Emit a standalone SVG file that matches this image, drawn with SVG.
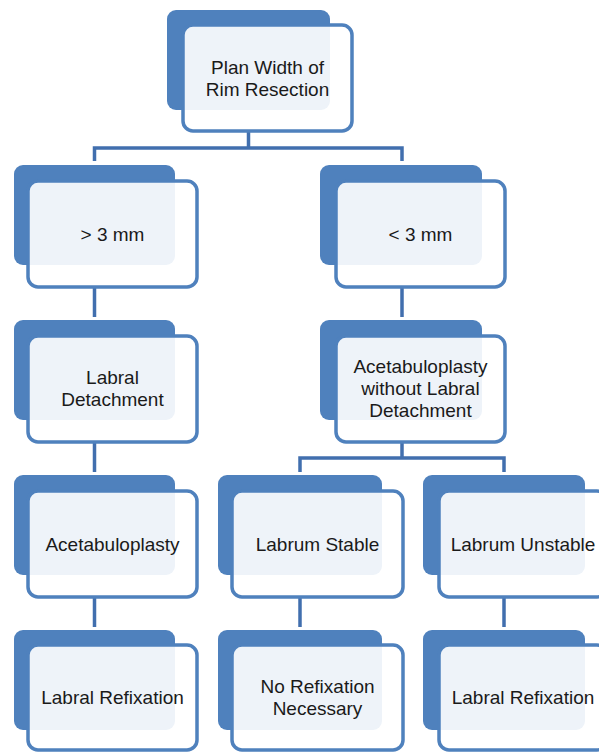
<svg xmlns="http://www.w3.org/2000/svg" width="599" height="752" viewBox="0 0 599 752">
<style>
.back{fill:#4f81bd;}
.front{fill:#ffffff;fill-opacity:0.9;stroke:#4f81bd;stroke-width:3.5;}
.conn{fill:none;stroke:#416fae;stroke-width:3.5;stroke-linejoin:miter;}
text{font-family:"Liberation Sans",Arial,sans-serif;font-size:19px;fill:#1a1a1a;text-anchor:middle;}
</style>
<rect width="599" height="752" fill="#ffffff"/>
<g id="connectors">
<path class="conn" d="M248.5,131 V148 M94.5,161 V148 H402 V161"/>
<path class="conn" d="M94.5,287 V317 M94.5,442 V472 M94.5,597 V627"/>
<path class="conn" d="M402,287 V317 M402,442 V458 M300,472 V458 H504 V472"/>
<path class="conn" d="M300,597 V627 M504,597 V627"/>
</g>
<g id="n-plan">
<rect class="back" x="167" y="10" width="163" height="100" rx="9"/>
<rect class="front" x="183" y="25" width="169" height="106" rx="10"/>
<text x="267.5" y="74">Plan Width of</text>
<text x="267.5" y="96">Rim Resection</text>
</g>
<g id="n-gt3">
<rect class="back" x="14" y="165" width="161" height="100" rx="9"/>
<rect class="front" x="28" y="181" width="169" height="106" rx="10"/>
<text x="112.5" y="240.5">&gt; 3 mm</text>
</g>
<g id="n-lt3">
<rect class="back" x="320" y="165" width="162" height="100" rx="9"/>
<rect class="front" x="336" y="181" width="169" height="106" rx="10"/>
<text x="420.5" y="240.5">&lt; 3 mm</text>
</g>
<g id="n-detach">
<rect class="back" x="14" y="320" width="161" height="100" rx="9"/>
<rect class="front" x="28" y="336" width="169" height="106" rx="10"/>
<text x="112.5" y="384">Labral</text>
<text x="112.5" y="406">Detachment</text>
</g>
<g id="n-acetab-without">
<rect class="back" x="320" y="320" width="162" height="100" rx="9"/>
<rect class="front" x="336" y="336" width="169" height="106" rx="10"/>
<text x="420.5" y="373">Acetabuloplasty</text>
<text x="420.5" y="395">without Labral</text>
<text x="420.5" y="417">Detachment</text>
</g>
<g id="n-acetab">
<rect class="back" x="14" y="475" width="161" height="100" rx="9"/>
<rect class="front" x="28" y="491" width="169" height="106" rx="10"/>
<text x="112.5" y="550.5">Acetabuloplasty</text>
</g>
<g id="n-stable">
<rect class="back" x="218" y="475" width="164" height="100" rx="9"/>
<rect class="front" x="232" y="491" width="171" height="106" rx="10"/>
<text x="317.5" y="550.5">Labrum Stable</text>
</g>
<g id="n-unstable">
<rect class="back" x="423" y="475" width="162" height="100" rx="9"/>
<rect class="front" x="439" y="491" width="168" height="106" rx="10"/>
<text x="523" y="550.5">Labrum Unstable</text>
</g>
<g id="n-refix-left">
<rect class="back" x="14" y="630" width="161" height="100" rx="9"/>
<rect class="front" x="28" y="645" width="169" height="105" rx="10"/>
<text x="112.5" y="704">Labral Refixation</text>
</g>
<g id="n-norefix">
<rect class="back" x="218" y="630" width="164" height="100" rx="9"/>
<rect class="front" x="232" y="645" width="171" height="105" rx="10"/>
<text x="317.5" y="693">No Refixation</text>
<text x="317.5" y="715">Necessary</text>
</g>
<g id="n-refix-right">
<rect class="back" x="423" y="630" width="162" height="100" rx="9"/>
<rect class="front" x="439" y="645" width="168" height="105" rx="10"/>
<text x="523" y="704">Labral Refixation</text>
</g>
</svg>
